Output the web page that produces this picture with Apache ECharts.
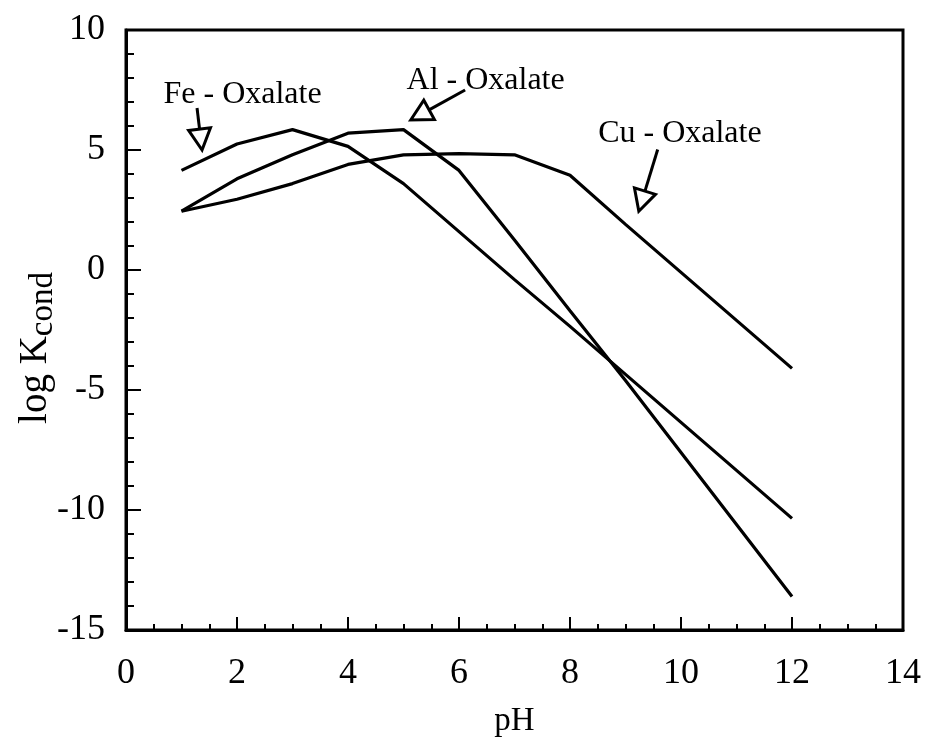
<!DOCTYPE html>
<html>
<head>
<meta charset="utf-8">
<script src="https://cdn.jsdelivr.net/npm/echarts@6/dist/echarts.min.js"></script>
<style>
  html, body { margin: 0; padding: 0; background: #fff; }
  #chart { width: 927px; height: 742px; }
</style>
</head>
<body>
<div id="chart"></div>
<script>
// Conditional stability constants of metal-oxalate complexes versus pH
const pH = [1, 2, 3, 4, 5, 6, 7, 8, 9, 10, 11, 12];
const feOxalate = [4.15, 5.25, 5.85, 5.15, 3.6, 1.6, -0.4, -2.35, -4.35, -6.35, -8.35, -10.35];
const alOxalate = [2.45, 3.8, 4.8, 5.7, 5.85, 4.15, 1.25, -1.7, -4.6, -7.6, -10.6, -13.6];
const cuOxalate = [2.45, 2.95, 3.6, 4.4, 4.8, 4.85, 4.8, 3.95, 1.9, -0.1, -2.1, -4.1];

const xTicks = { min: 0, max: 14, step: 2 };
const yTicks = { min: -15, max: 10, step: 5 };

// Callout labels: text anchor, arrow tail and arrow tip, in (pH, log K) units
const calloutNames = ['Fe - Oxalate', 'Al - Oxalate', 'Cu - Oxalate'];
const calloutText = [[2.1, 7.3], [6.48, 7.9], [9.98, 5.67]];
const calloutTail = [[1.28, 6.75], [6.11, 7.5], [9.58, 5.02]];
const calloutTip = [[1.37, 5.0], [5.13, 6.25], [9.24, 2.45]];

const serif = '"Liberation Serif", "DejaVu Serif", serif';

const toPairs = ys => pH.map((x, i) => [x, ys[i]]);

const chart = echarts.init(document.getElementById('chart'), null, { renderer: 'canvas' });

const lineSeries = (name, ys) => ({
  name,
  type: 'line',
  data: toPairs(ys),
  showSymbol: false,
  symbol: 'none',
  lineStyle: { color: '#000', width: 3.2 },
  z: 3
});

chart.setOption({
  animation: false,
  backgroundColor: '#fff',
  grid: {
    left: 126, right: 24, top: 30, bottom: 112,
    containLabel: false,
    outerBoundsMode: 'none',
    show: true, borderColor: '#000', borderWidth: 3, backgroundColor: 'transparent'
  },
  xAxis: {
    type: 'value',
    min: xTicks.min, max: xTicks.max, interval: xTicks.step,
    name: 'pH',
    nameLocation: 'middle',
    nameGap: 75,
    nameMoveOverlap: false,
    nameTextStyle: { fontFamily: serif, fontSize: 33, color: '#000' },
    axisLine: { show: true, onZero: false, lineStyle: { color: '#000', width: 3 } },
    axisTick: { show: true, inside: true, length: 13, lineStyle: { color: '#000', width: 2 } },
    minorTick: { show: true, splitNumber: 4, length: 6, lineStyle: { color: '#000', width: 2 } },
    axisLabel: { fontFamily: serif, fontSize: 36, color: '#000', margin: 26 },
    splitLine: { show: false }
  },
  yAxis: {
    type: 'value',
    min: yTicks.min, max: yTicks.max, interval: yTicks.step,
    name: 'log K{sub|cond}',
    nameLocation: 'middle',
    nameRotate: 90,
    nameGap: 66,
    nameMoveOverlap: false,
    nameTextStyle: {
      fontFamily: serif, fontSize: 39, color: '#000',
      padding: [0, 36, 0, 0],
      rich: { sub: { fontFamily: serif, fontSize: 33, color: '#000', verticalAlign: 'bottom', padding: [16, 0, 0, 0] } }
    },
    axisLine: { show: true, onZero: false, lineStyle: { color: '#000', width: 3 } },
    axisTick: { show: true, inside: true, length: 15, lineStyle: { color: '#000', width: 2 } },
    minorTick: { show: true, splitNumber: 5, length: 8, lineStyle: { color: '#000', width: 2 } },
    axisLabel: { fontFamily: serif, fontSize: 36, color: '#000', margin: 21 },
    splitLine: { show: false }
  },
  series: [
    lineSeries('Fe - Oxalate', feOxalate),
    lineSeries('Al - Oxalate', alOxalate),
    lineSeries('Cu - Oxalate', cuOxalate)
  ]
});

// Callout arrows with open triangular heads, placed through the axis scales
function drawCallouts() {
  const elements = [];
  calloutNames.forEach((label, i) => {
    const t = chart.convertToPixel({ gridIndex: 0 }, calloutText[i]);
    const a = chart.convertToPixel({ gridIndex: 0 }, calloutTail[i]);
    const b = chart.convertToPixel({ gridIndex: 0 }, calloutTip[i]);
    const dx = b[0] - a[0], dy = b[1] - a[1];
    const len = Math.hypot(dx, dy);
    const ux = dx / len, uy = dy / len;
    const headLen = 21, headHalf = 11;
    const baseX = b[0] - ux * headLen, baseY = b[1] - uy * headLen;
    const px = -uy, py = ux;
    elements.push({
      type: 'text',
      style: {
        text: label, x: t[0], y: t[1],
        align: 'center', verticalAlign: 'middle',
        font: '32px ' + serif, fill: '#000'
      },
      z: 10
    });
    elements.push({
      type: 'line',
      shape: { x1: a[0], y1: a[1], x2: baseX, y2: baseY },
      style: { stroke: '#000', lineWidth: 3 },
      z: 10
    });
    elements.push({
      type: 'polygon',
      shape: {
        points: [
          [b[0], b[1]],
          [baseX + px * headHalf, baseY + py * headHalf],
          [baseX - px * headHalf, baseY - py * headHalf]
        ]
      },
      style: { fill: '#fff', stroke: '#000', lineWidth: 3, lineJoin: 'miter' },
      z: 10
    });
  });
  chart.setOption({ graphic: elements });
}
drawCallouts();
</script>
</body>
</html>
